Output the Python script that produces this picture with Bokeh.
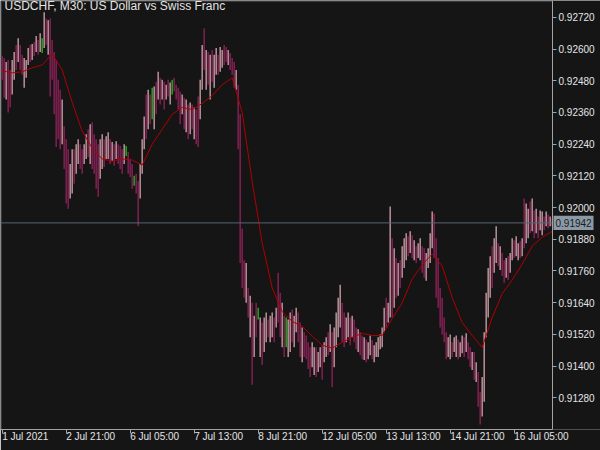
from bokeh.plotting import figure
from bokeh.models import (ColumnDataSource, LinearAxis, FixedTicker, Label,
                          NumeralTickFormatter, Range1d, BoxAnnotation)
from bokeh.embed import file_html
from bokeh.resources import INLINE

# ---------------- data ----------------
chart_title = "USDCHF, M30:  US Dollar vs Swiss Franc"

bar_high = [
    0.92574, 0.92566, 0.92551, 0.92559, 0.92521, 0.92559, 0.92589, 0.92615, 0.92641, 0.92615,
    0.92578, 0.92566, 0.92559, 0.92604, 0.92615, 0.92619, 0.92626, 0.92649, 0.92634, 0.92660,
    0.92641, 0.92739, 0.92716, 0.92709, 0.92716, 0.92634, 0.92589, 0.92559, 0.92484, 0.92446,
    0.92409, 0.92308, 0.92259, 0.92221, 0.92165, 0.92221, 0.92221, 0.92240, 0.92259, 0.92240,
    0.92221, 0.92240, 0.92278, 0.92296, 0.92315, 0.92323, 0.92278, 0.92259, 0.92240, 0.92259,
    0.92278, 0.92259, 0.92270, 0.92285, 0.92259, 0.92248, 0.92240, 0.92251, 0.92240, 0.92233,
    0.92221, 0.92240, 0.92233, 0.92210, 0.92184, 0.92165, 0.92120, 0.92128, 0.92101, 0.92165,
    0.92259, 0.92345, 0.92428, 0.92446, 0.92428, 0.92454, 0.92458, 0.92476, 0.92514, 0.92491,
    0.92484, 0.92476, 0.92465, 0.92484, 0.92473, 0.92484, 0.92491, 0.92465, 0.92454, 0.92439,
    0.92428, 0.92416, 0.92409, 0.92390, 0.92398, 0.92390, 0.92379, 0.92371, 0.92420, 0.92484,
    0.92615, 0.92679, 0.92596, 0.92589, 0.92578, 0.92596, 0.92578, 0.92604, 0.92578, 0.92608,
    0.92596, 0.92615, 0.92608, 0.92596, 0.92585, 0.92566, 0.92551, 0.92521, 0.92465, 0.92353,
    0.91921, 0.91801, 0.91790, 0.91696, 0.91666, 0.91640, 0.91591, 0.91640, 0.91621, 0.91584,
    0.91565, 0.91584, 0.91603, 0.91576, 0.91591, 0.91603, 0.91584, 0.91621, 0.91753, 0.91678,
    0.91640, 0.91591, 0.91584, 0.91576, 0.91603, 0.91614, 0.91591, 0.91621, 0.91603, 0.91565,
    0.91546, 0.91528, 0.91516, 0.91490, 0.91471, 0.91490, 0.91471, 0.91471, 0.91453, 0.91471,
    0.91479, 0.91490, 0.91509, 0.91528, 0.91558, 0.91528, 0.91546, 0.91603, 0.91659, 0.91708,
    0.91640, 0.91603, 0.91584, 0.91603, 0.91584, 0.91591, 0.91576, 0.91546, 0.91539, 0.91528,
    0.91516, 0.91509, 0.91501, 0.91490, 0.91516, 0.91498, 0.91479, 0.91490, 0.91509, 0.91520,
    0.91546, 0.91621, 0.91659, 0.91640, 0.92004, 0.91884, 0.91846, 0.91809, 0.91790, 0.91801,
    0.91854, 0.91884, 0.91903, 0.91891, 0.91910, 0.91895, 0.91876, 0.91854, 0.91865, 0.91884,
    0.91854, 0.91846, 0.91828, 0.91846, 0.91903, 0.91985, 0.91978, 0.91884, 0.91809, 0.91696,
    0.91659, 0.91584, 0.91528, 0.91509, 0.91520, 0.91490, 0.91509, 0.91516, 0.91501, 0.91490,
    0.91516, 0.91509, 0.91524, 0.91490, 0.91471, 0.91453, 0.91453, 0.91415, 0.91378, 0.91303,
    0.91359, 0.91528, 0.91678, 0.91771, 0.91816, 0.91854, 0.91884, 0.91929, 0.91865, 0.91854,
    0.91828, 0.91801, 0.91809, 0.91816, 0.91828, 0.91884, 0.91876, 0.91891, 0.91865, 0.91873,
    0.91884, 0.92034, 0.92015, 0.91996, 0.92023, 0.92034, 0.91989, 0.91996, 0.91966, 0.91989,
    0.91985, 0.91966, 0.91985, 0.91974, 0.91966, 0.91959,
]

bar_low = [
    0.92484, 0.92416, 0.92409, 0.92360, 0.92379, 0.92428, 0.92484, 0.92521, 0.92551, 0.92521,
    0.92503, 0.92454, 0.92491, 0.92540, 0.92551, 0.92559, 0.92574, 0.92589, 0.92578, 0.92589,
    0.92585, 0.92604, 0.92615, 0.92578, 0.92420, 0.92484, 0.92353, 0.92229, 0.92259, 0.92221,
    0.92240, 0.92146, 0.92015, 0.91996, 0.92034, 0.92053, 0.92090, 0.92128, 0.92165, 0.92146,
    0.92128, 0.92165, 0.92184, 0.92191, 0.92165, 0.92146, 0.92128, 0.92071, 0.92041, 0.92109,
    0.92146, 0.92154, 0.92184, 0.92184, 0.92165, 0.92176, 0.92158, 0.92184, 0.92165, 0.92146,
    0.92128, 0.92165, 0.92195, 0.92128, 0.92116, 0.92071, 0.92083, 0.92053, 0.91929, 0.92034,
    0.92128, 0.92221, 0.92259, 0.92296, 0.92315, 0.92334, 0.92296, 0.92353, 0.92409, 0.92390,
    0.92409, 0.92371, 0.92409, 0.92420, 0.92390, 0.92428, 0.92439, 0.92409, 0.92371, 0.92315,
    0.92353, 0.92296, 0.92285, 0.92259, 0.92278, 0.92296, 0.92259, 0.92240, 0.92229, 0.92334,
    0.92446, 0.92521, 0.92446, 0.92465, 0.92409, 0.92476, 0.92454, 0.92503, 0.92503, 0.92514,
    0.92529, 0.92540, 0.92551, 0.92540, 0.92521, 0.92503, 0.92454, 0.92446, 0.92221, 0.91790,
    0.91696, 0.91659, 0.91640, 0.91584, 0.91509, 0.91329, 0.91434, 0.91509, 0.91576, 0.91434,
    0.91404, 0.91453, 0.91490, 0.91509, 0.91490, 0.91509, 0.91490, 0.91546, 0.91565, 0.91509,
    0.91471, 0.91434, 0.91471, 0.91434, 0.91453, 0.91490, 0.91471, 0.91528, 0.91490, 0.91434,
    0.91415, 0.91434, 0.91426, 0.91389, 0.91359, 0.91396, 0.91366, 0.91359, 0.91378, 0.91396,
    0.91348, 0.91415, 0.91434, 0.91441, 0.91453, 0.91321, 0.91396, 0.91471, 0.91509, 0.91546,
    0.91490, 0.91471, 0.91490, 0.91509, 0.91479, 0.91509, 0.91490, 0.91464, 0.91453, 0.91441,
    0.91426, 0.91423, 0.91415, 0.91426, 0.91441, 0.91426, 0.91415, 0.91434, 0.91434, 0.91464,
    0.91471, 0.91528, 0.91546, 0.91565, 0.91584, 0.91584, 0.91621, 0.91659, 0.91666, 0.91696,
    0.91734, 0.91771, 0.91801, 0.91816, 0.91828, 0.91809, 0.91801, 0.91790, 0.91809, 0.91801,
    0.91753, 0.91734, 0.91723, 0.91771, 0.91790, 0.91846, 0.91809, 0.91659, 0.91621, 0.91546,
    0.91520, 0.91490, 0.91426, 0.91434, 0.91426, 0.91434, 0.91453, 0.91434, 0.91426, 0.91434,
    0.91449, 0.91434, 0.91453, 0.91426, 0.91396, 0.91385, 0.91348, 0.91340, 0.91246, 0.91179,
    0.91209, 0.91265, 0.91509, 0.91584, 0.91659, 0.91696, 0.91753, 0.91790, 0.91779, 0.91764,
    0.91741, 0.91715, 0.91734, 0.91726, 0.91753, 0.91801, 0.91809, 0.91816, 0.91801, 0.91809,
    0.91816, 0.91846, 0.91865, 0.91884, 0.91903, 0.91910, 0.91884, 0.91903, 0.91884, 0.91914,
    0.91895, 0.91914, 0.91929, 0.91921, 0.91929, 0.91929,
]

# u = up bar, d = down bar, g = highlighted (green) bar
bar_kind = list(
    "ddudduudud" "duuudududu" "gududddddd" "uddduuduud" "duududdddu"
    "uduudududd" "dugdddgddu" "uududgudud" "ududugdddd" "ududududdu"
    "udududuudu" "uddudddudd" "ddudududgu" "duuduududd" "udguuduudd"
    "udddduuduu" "duududuuuu" "dduududdud" "duduuduuuu" "uuduududud"
    "uuudududuu" "dduuuudddd" "ddduuduudu" "ududdududd" "uuuuuduudu"
    "dduduuduud" "uduudududu" "ududud"
)

# moving average, sampled every 5 bars
ma_every = 5
ma_values = [
    0.92518, 0.92510, 0.92514, 0.92529, 0.92540, 0.92581, 0.92521, 0.92398, 0.92289, 0.92225,
    0.92184, 0.92176, 0.92184, 0.92180, 0.92161, 0.92240, 0.92296, 0.92353, 0.92379, 0.92371,
    0.92394, 0.92424, 0.92465, 0.92491, 0.92360, 0.92098, 0.91865, 0.91696, 0.91606, 0.91569,
    0.91550, 0.91513, 0.91479, 0.91468, 0.91490, 0.91509, 0.91524, 0.91516, 0.91516, 0.91580,
    0.91640, 0.91730, 0.91783, 0.91824, 0.91779, 0.91659, 0.91565, 0.91516, 0.91471, 0.91584,
    0.91674, 0.91726, 0.91786, 0.91854, 0.91888, 0.91910,
]

last_price = 0.91942

y_ticks = [0.91280, 0.91400, 0.91520, 0.91640, 0.91760, 0.91880, 0.92000,
           0.92120, 0.92240, 0.92360, 0.92480, 0.92600, 0.92720]

x_tick_bars = [0, 32, 64, 96, 128, 160, 192, 224, 256]
x_tick_labels = ["1 Jul 2021", "2 Jul 21:00", "6 Jul 05:00", "7 Jul 13:00", "8 Jul 21:00",
                 "12 Jul 05:00", "13 Jul 13:00", "14 Jul 21:00", "16 Jul 05:00"]

# ---------------- layout / styling ----------------
BG = "#151515"
AXIS = "#a3a3a3"
BORDER = "#8f8f8f"
TXT = "#e4e4e4"
FONT = "Liberation Sans"
kind_color = {"u": "#b08890", "d": "#7a1f4d", "g": "#17a317"}

X_START, X_END = -0.85, 299.15        # frame spans the full width; price scale lives inside it
AXIS_X = 275.15                       # where the price scale sits
Y_START, Y_END = 0.91160, 0.927838
BORDER_X, BORDER_Y = -0.35, 0.92780   # 1 px inside the frame edges

n = min(len(bar_high), len(bar_low), len(bar_kind))
src = ColumnDataSource(dict(
    x=list(range(n)),
    high=bar_high[:n],
    low=bar_low[:n],
    color=[kind_color[k] for k in bar_kind[:n]],
))

p = figure(width=600, height=450, output_backend="svg", toolbar_location=None,
           x_range=Range1d(X_START, X_END), y_range=Range1d(Y_START, Y_END),
           x_axis_location=None, y_axis_location=None,
           background_fill_color=BG, border_fill_color=BG, outline_line_color=None,
           min_border_left=0, min_border_top=0, min_border_right=0, min_border_bottom=17)
p.xgrid.visible = False
p.ygrid.visible = False

# chart border (top and left sides visible; right/bottom coincide with the scales)
p.add_layout(BoxAnnotation(left=BORDER_X, right=AXIS_X, bottom=Y_START, top=BORDER_Y,
                           fill_color=None, line_color=BORDER, line_width=1,
                           level="underlay", editable=False))

# price box for the last price
box_half = 0.00027
p.add_layout(BoxAnnotation(left=AXIS_X + 0.5, right=AXIS_X + 20.5,
                           bottom=last_price - box_half, top=last_price + box_half,
                           fill_color="#8b99a7", fill_alpha=1.0, line_color=None,
                           level="underlay", editable=False))

yaxis = LinearAxis(ticker=FixedTicker(ticks=y_ticks), fixed_location=AXIS_X,
                   formatter=NumeralTickFormatter(format="0.00000"),
                   axis_line_color=AXIS, major_tick_line_color=AXIS,
                   major_tick_out=4, major_tick_in=0, minor_tick_out=0, minor_tick_in=0,
                   major_label_text_color=TXT, major_label_text_font=FONT,
                   major_label_text_font_size="10px", major_label_standoff=2)
p.add_layout(yaxis, "right")

# a tiny negative orientation makes Bokeh left-align the labels at their ticks
xaxis = LinearAxis(ticker=FixedTicker(ticks=x_tick_bars), bounds=(X_START, AXIS_X),
                   major_label_overrides={b: t for b, t in zip(x_tick_bars, x_tick_labels)},
                   axis_line_color=AXIS, major_tick_line_color=AXIS,
                   major_tick_out=4, major_tick_in=0, minor_tick_out=0, minor_tick_in=0,
                   major_label_text_color=TXT, major_label_text_font=FONT,
                   major_label_text_font_size="10px", major_label_standoff=3,
                   major_label_orientation=-1e-6)
p.add_layout(xaxis, "below")

p.segment(x0="x", y0="low", x1="x", y1="high", source=src,
          line_color="color", line_width=1.6)

ma_x = [i * ma_every for i in range(len(ma_values))]
p.line(ma_x, ma_values, line_color="#b00000", line_width=1)

# bid line, ending at the price scale
p.segment(x0=[X_START], y0=[last_price], x1=[AXIS_X], y1=[last_price],
          line_color="#566574", line_width=1)

p.add_layout(Label(x=AXIS_X + 1.5, y=last_price, x_units="data", y_units="data",
                   text=f"{last_price:.5f}", text_font=FONT, text_font_size="10px",
                   text_color="#1b1b1b", text_baseline="middle"))

p.add_layout(Label(x=4, y=431, x_units="screen", y_units="screen",
                   text=chart_title, text_font=FONT, text_font_size="12px",
                   text_color=TXT, text_baseline="top"))

open("out.html", "w").write(file_html(p, INLINE))
